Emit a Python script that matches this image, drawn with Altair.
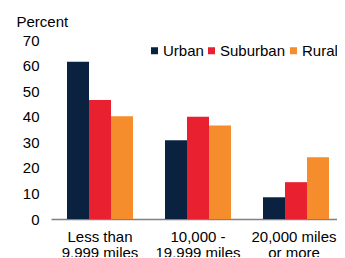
import altair as alt
import pandas as pd

categories = ["Less than|9,999 miles", "10,000 -|19,999 miles", "20,000 miles|or more"]
series = ["Urban", "Suburban", "Rural"]
urban = [61.5, 30.8, 8.5]
suburban = [46.5, 40.0, 14.4]
rural = [40.2, 36.6, 24.1]
colors = ["#0A2240", "#E8202F", "#F58D2C"]

rows = []
for s, vals in zip(series, [urban, suburban, rural]):
    for c, v in zip(categories, vals):
        rows.append({"cat": c, "series": s, "value": v})
df = pd.DataFrame(rows)

font = "Liberation Sans"

chart = alt.Chart(df).mark_bar().encode(
    x=alt.X("cat:N", sort=categories,
            scale=alt.Scale(paddingInner=0.3265, paddingOuter=0.1224, align=0.667),
            axis=alt.Axis(title=None, labelAngle=0, ticks=False, tickSize=0,
                          domainColor="#808080", domainWidth=1.5,
                          labelExpr="split(datum.label, '|')",
                          labelOffset={"condition": {"test": "datum.index > 0.9", "value": -2}, "value": 0},
                          labelFont=font, labelFontSize=15, labelColor="#000000",
                          labelPadding=10, labelLineHeight=16, labelBaseline="top")),
    xOffset=alt.XOffset("series:N", sort=series, scale=alt.Scale(paddingInner=0, paddingOuter=0)),
    y=alt.Y("value:Q", scale=alt.Scale(domain=[0, 70], nice=False),
            axis=alt.Axis(values=list(range(0, 80, 10)), grid=False, domain=False,
                          ticks=False, tickSize=0, labelPadding=12,
                          labelFont=font, labelFontSize=15, labelColor="#000000",
                          title="Percent", titleAngle=0, titleX=-35, titleY=-13.5,
                          titleAlign="left", titleBaseline="alphabetic",
                          titleFont=font, titleFontSize=15, titleFontWeight="normal",
                          titleColor="#000000")),
    color=alt.Color("series:N", sort=series,
                    scale=alt.Scale(domain=series, range=colors),
                    legend=alt.Legend(title=None, orient="none", legendX=96, legendY=3,
                                      direction="horizontal", columns=3,
                                      symbolType="square", symbolSize=49,
                                      symbolStrokeWidth=0, columnPadding=-5,
                                      symbolOffset=0, labelOffset=1,
                                      labelFont=font, labelFontSize=15,
                                      labelColor="#000000")),
).properties(
    width=286, height=179,
    autosize=alt.AutoSizeParams(type="none"),
    padding={"left": 43, "top": 32, "right": 0, "bottom": 38},
).configure_view(stroke=None)

chart.save("out.html", embed_options={"renderer": "svg", "actions": False})
